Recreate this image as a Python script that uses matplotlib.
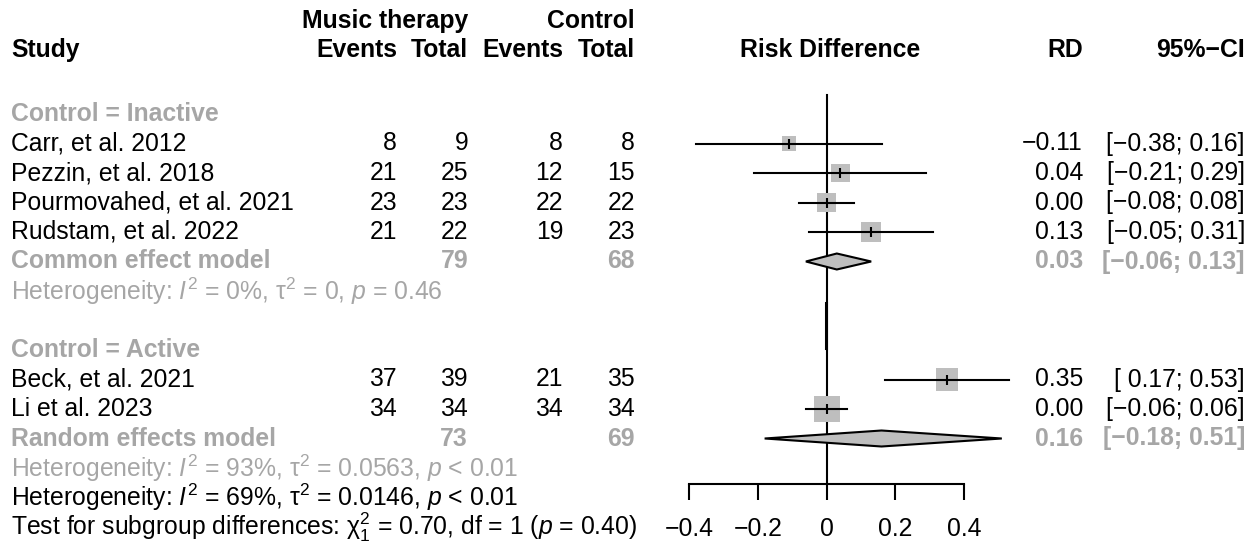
import matplotlib.pyplot as plt
from matplotlib.patches import Polygon
import numpy as np

plt.rcParams['font.family'] = ['Liberation Sans', 'DejaVu Sans']
plt.rcParams['mathtext.fontset'] = 'custom'
plt.rcParams['mathtext.rm'] = 'Liberation Sans'
plt.rcParams['mathtext.it'] = 'Liberation Sans:italic'
plt.rcParams['mathtext.bf'] = 'Liberation Sans:bold'

# studies, in plot order
studies = ['Carr, et al. 2012', 'Pezzin, et al. 2018', 'Pourmovahed, et al. 2021',
           'Rudstam, et al. 2022', 'Beck, et al. 2021', 'Li et al. 2023']
subgroup = [0, 0, 0, 0, 1, 1]
ev_mt = [8, 21, 23, 21, 37, 34]
n_mt = [9, 25, 23, 22, 39, 34]
ev_c = [8, 12, 22, 19, 21, 34]
n_c = [8, 15, 22, 23, 35, 34]
rd = [-0.11, 0.04, 0.00, 0.13, 0.35, 0.00]
ci_lo = [-0.38, -0.21, -0.08, -0.05, 0.17, -0.06]
ci_hi = [0.16, 0.29, 0.08, 0.31, 0.53, 0.06]
box_weight = [29, 53, 59, 59, 72, 100]   # relative box weights

# subgroup summaries
sub_labels = ['Control = Inactive', 'Control = Active']
model_names = ['Common effect model', 'Random effects model']
model_n_mt = [79, 73]
model_n_c = [68, 69]
model_rd = [0.03, 0.16]
model_lo = [-0.06, -0.18]
model_hi = [0.13, 0.51]
sub_het = [r'Heterogeneity: $\mathit{I}^2$ = 0%, τ$^2$ = 0, $\mathit{p}$ = 0.46',
           r'Heterogeneity: $\mathit{I}^2$ = 93%, τ$^2$ = 0.0563, $\mathit{p}$ < 0.01']
overall_het = r'Heterogeneity: $\mathit{I}^2$ = 69%, τ$^2$ = 0.0146, $\mathit{p}$ < 0.01'
subgroup_test = r'Test for subgroup differences: χ$^2_1$ = 0.70, df = 1 ($\mathit{p}$ = 0.40)'

xticks = [-0.4, -0.2, 0, 0.2, 0.4]
xticklabels = ['\u22120.4', '\u22120.2', '0', '0.2', '0.4']

GRAY_TXT = '#A6A6A6'
GRAY_BOX = '#BEBEBE'
FS = 17.8

def fmt(v):
    s = '%.2f' % v
    return s.replace('-', '\u2212')

def fmt_ci(lo, hi):
    lo_s = fmt(lo) if lo < 0 else ' ' + fmt(lo)
    return '[%s; %s]' % (lo_s, fmt(hi))

# row layout: row index -> pixel y
y0, dy = 114, 29.5
layout = []
for g in range(2):
    layout.append(('sub', g))
    for i in range(len(studies)):
        if subgroup[i] == g:
            layout.append(('study', i))
    layout.append(('model', g))
    layout.append(('het', g))
    if g == 0:
        layout.append(('blank', None))
layout.append(('ohet', None))
layout.append(('test', None))
ypos = [y0 + dy * k for k in range(len(layout))]

W, H = 1255, 546
fig = plt.figure(figsize=(W / 100, H / 100), dpi=100)
ax_t = fig.add_axes([0, 0, 1, 1])
ax_t.set_xlim(0, W)
ax_t.set_ylim(H, 0)
ax_t.axis('off')

x_left, x_ev1, x_n1, x_ev2, x_n2, x_rd, x_ci = 11, 397, 468, 563, 635, 1083, 1245
x0_pix, x1_pix = 689, 964
ax = fig.add_axes([x0_pix / W, 0, (x1_pix - x0_pix) / W, 1])
ax.set_xlim(-0.4, 0.4)
ax.set_ylim(H, 0)
ax.patch.set_alpha(0)
for s in ['top', 'left', 'right']:
    ax.spines[s].set_visible(False)
ax.spines['bottom'].set_position(('data', 484))
ax.spines['bottom'].set_linewidth(1.5)
ax.set_yticks([])
ax.set_xticks(xticks, labels=xticklabels)
ax.tick_params(axis='x', direction='out', length=11.5, width=1.5, pad=12, labelsize=FS)

# headers
hb = dict(fontsize=FS, fontweight='bold', va='center')
ax_t.text(x_n1, 21, 'Music therapy', ha='right', **hb)
ax_t.text(x_n2, 21, 'Control', ha='right', **hb)
ax_t.text(x_left, 50, 'Study', ha='left', **hb)
for x, lab in zip([x_ev1, x_n1, x_ev2, x_n2], ['Events', 'Total', 'Events', 'Total']):
    ax_t.text(x, 50, lab, ha='right', **hb)
ax_t.text(830, 50, 'Risk Difference', ha='center', **hb)
ax_t.text(x_rd, 50, 'RD', ha='right', **hb)
ax_t.text(x_ci, 50, '95%\u2212CI', ha='right', **hb)

# reference line at 0
ax.plot([0, 0], [95, 484], color='black', lw=1.5, clip_on=False)
ax.plot([-0.001, -0.001], [303, 348], color='black', lw=2.2, clip_on=False)

wmax = max(box_weight)
for (kind, idx), y in zip(layout, ypos):
    if kind == 'sub':
        ax_t.text(x_left, y, sub_labels[idx], ha='left', va='center', fontsize=FS,
                  fontweight='bold', color=GRAY_TXT)
    elif kind == 'study':
        i = idx
        ax_t.text(x_left, y, studies[i], ha='left', va='center', fontsize=FS)
        for x, v in zip([x_ev1, x_n1, x_ev2, x_n2], [ev_mt[i], n_mt[i], ev_c[i], n_c[i]]):
            ax_t.text(x, y, str(v), ha='right', va='center', fontsize=FS)
        ax_t.text(x_rd, y, fmt(rd[i]), ha='right', va='center', fontsize=FS)
        ax_t.text(x_ci, y, fmt_ci(ci_lo[i], ci_hi[i]), ha='right', va='center', fontsize=FS)
        side = 26 * np.sqrt(box_weight[i] / wmax) * 0.72
        ax.scatter([rd[i]], [y], marker='s', s=side ** 2, color=GRAY_BOX,
                   edgecolors='none', zorder=2, clip_on=False)
        ax.plot([ci_lo[i], ci_hi[i]], [y, y], color='black', lw=1.5, zorder=3,
                clip_on=False)
        ax.plot([rd[i]], [y], marker='|', markersize=7, mew=1.5, color='black',
                zorder=4, clip_on=False)
    elif kind == 'model':
        g = idx
        mb = dict(ha='right', va='center', fontsize=FS, fontweight='bold', color=GRAY_TXT)
        ax_t.text(x_left, y, model_names[g], **{**mb, 'ha': 'left'})
        ax_t.text(x_n1, y, str(model_n_mt[g]), **mb)
        ax_t.text(x_n2, y, str(model_n_c[g]), **mb)
        ax_t.text(x_rd, y, fmt(model_rd[g]), **mb)
        ax_t.text(x_ci, y, fmt_ci(model_lo[g], model_hi[g]), **mb)
        h = 8
        dia = Polygon([(model_lo[g], y), (model_rd[g], y - h), (model_hi[g], y),
                       (model_rd[g], y + h)], closed=True, facecolor=GRAY_BOX,
                      edgecolor='black', lw=1.5, zorder=3, clip_on=False)
        ax.add_patch(dia)
    elif kind == 'het':
        ax_t.text(x_left, y, sub_het[idx], ha='left', va='center', fontsize=FS,
                  color=GRAY_TXT)
    elif kind == 'ohet':
        ax_t.text(x_left, y, overall_het, ha='left', va='center', fontsize=FS)
    elif kind == 'test':
        ax_t.text(x_left, y, subgroup_test, ha='left', va='center', fontsize=FS)

fig.savefig('out.png', dpi=100)
